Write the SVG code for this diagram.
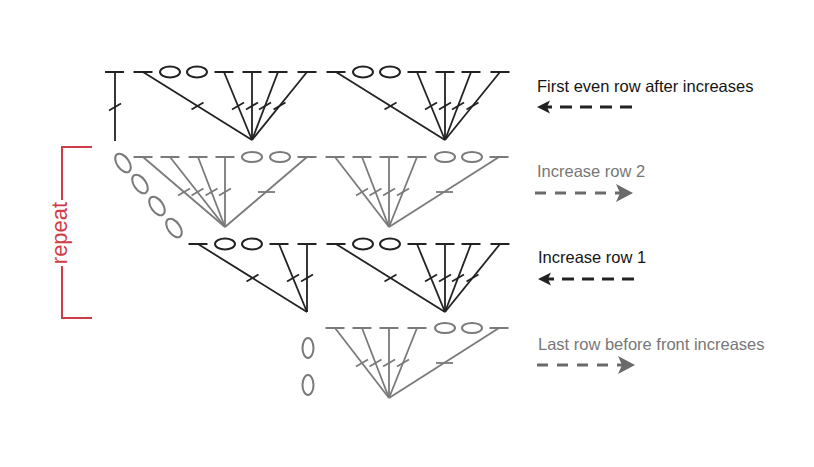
<svg xmlns="http://www.w3.org/2000/svg" width="814" height="467" viewBox="0 0 814 467">
<style>
  line { stroke-width: 1.8; stroke-linecap: butt; }
  .bar { stroke-width: 2; }
  ellipse { fill: none; stroke-width: 2; }
  .blk { stroke: #222222; }
  .gry { stroke: #7a7a7a; }
  .red { stroke: #cf3b47; stroke-width: 2; fill: none; }
  .lbl { font-family: "Liberation Sans", Arial, sans-serif; font-size: 16.5px; }
  .dashk { stroke: #222222; stroke-width: 3; stroke-dasharray: 12 8; }
  .dashg { stroke: #6a6a6a; stroke-width: 3; stroke-dasharray: 11 9; }
</style>
<defs>
  <!-- black fan: origin at convergence point, bars at y=-68 -->
  <g id="fanA-core">
    <line class="bar" x1="-118.5" y1="-68" x2="-99.5" y2="-68"/>
    <line x1="-109" y1="-68" x2="0" y2="0"/>
    <line x1="-60.5" y1="-30.5" x2="-48.5" y2="-37.5"/>
    <ellipse cx="-82" cy="-68" rx="10" ry="5.5"/>
    <ellipse cx="-55" cy="-68" rx="10" ry="5.5"/>
    <line class="bar" x1="-37.5" y1="-68" x2="-18.5" y2="-68"/>
    <line x1="-28" y1="-68" x2="0" y2="0"/>
    <line x1="-20" y1="-30.5" x2="-8" y2="-37.5"/>
    <line class="bar" x1="-9.5" y1="-68" x2="9.5" y2="-68"/>
    <line x1="0" y1="-68" x2="0" y2="0"/>
    <line x1="-6" y1="-30.5" x2="6" y2="-37.5"/>
  </g>
  <g id="fanA-ext">
    <line class="bar" x1="16.5" y1="-68" x2="35.5" y2="-68"/>
    <line x1="26" y1="-68" x2="0" y2="0"/>
    <line x1="7" y1="-30.5" x2="19" y2="-37.5"/>
    <line class="bar" x1="45.5" y1="-68" x2="64.5" y2="-68"/>
    <line x1="55" y1="-68" x2="0" y2="0"/>
    <line x1="21.5" y1="-30.5" x2="33.5" y2="-37.5"/>
  </g>
  <!-- gray fan: origin at convergence point, bars at y=-70 -->
  <g id="fanB">
    <line class="bar" x1="-63.5" y1="-70" x2="-44.5" y2="-70"/>
    <line x1="-54" y1="-70" x2="0" y2="0"/>
    <line x1="-33" y1="-31.5" x2="-21" y2="-38.5"/>
    <line class="bar" x1="-36.5" y1="-70" x2="-17.5" y2="-70"/>
    <line x1="-27" y1="-70" x2="0" y2="0"/>
    <line x1="-19.5" y1="-31.5" x2="-7.5" y2="-38.5"/>
    <line class="bar" x1="-9.5" y1="-70" x2="9.5" y2="-70"/>
    <line x1="0" y1="-70" x2="0" y2="0"/>
    <line x1="-6" y1="-31.5" x2="6" y2="-38.5"/>
    <line class="bar" x1="18.5" y1="-70" x2="37.5" y2="-70"/>
    <line x1="28" y1="-70" x2="0" y2="0"/>
    <line x1="8" y1="-31.5" x2="20" y2="-38.5"/>
    <ellipse cx="56" cy="-70" rx="10" ry="5"/>
    <ellipse cx="83" cy="-70" rx="10" ry="5"/>
    <line class="bar" x1="100.5" y1="-70" x2="119.5" y2="-70"/>
    <line x1="110" y1="-70" x2="0" y2="0"/>
    <line x1="47" y1="-35" x2="64" y2="-35"/>
  </g>
</defs>

<g id="row-first-even">
  <g id="start-stitch" class="blk">
    <line class="bar" x1="105" y1="72" x2="124" y2="72"/>
    <line x1="115" y1="72" x2="115" y2="141"/>
    <line x1="109" y1="110.5" x2="121" y2="103.5"/>
  </g>
  <g id="fan1-left" class="blk" transform="translate(252,140)">
    <use href="#fanA-core"/>
    <use href="#fanA-ext"/>
  </g>
  <g id="fan1-right" class="blk" transform="translate(445,140)">
    <use href="#fanA-core"/>
    <use href="#fanA-ext"/>
  </g>
</g>

<g id="row-increase-2">
  <g id="chain-diagonal" class="gry">
    <ellipse cx="123" cy="163" rx="10.5" ry="6" transform="rotate(55 123 163)"/>
    <ellipse cx="140" cy="184" rx="10.5" ry="6" transform="rotate(55 140 184)"/>
    <ellipse cx="157" cy="206" rx="10.5" ry="6" transform="rotate(55 157 206)"/>
    <ellipse cx="174" cy="228" rx="10.5" ry="6" transform="rotate(55 174 228)"/>
  </g>
  <g id="fan2-left" class="gry">
    <line class="bar" x1="133.5" y1="157" x2="152.5" y2="157"/>
    <line x1="143" y1="157" x2="225" y2="227"/>
    <line x1="178" y1="195.5" x2="190" y2="188.5"/>
    <line class="bar" x1="160.5" y1="157" x2="179.5" y2="157"/>
    <line x1="170" y1="157" x2="225" y2="227"/>
    <line x1="191.5" y1="195.5" x2="203.5" y2="188.5"/>
    <line class="bar" x1="188.5" y1="157" x2="207.5" y2="157"/>
    <line x1="198" y1="157" x2="225" y2="227"/>
    <line x1="205.5" y1="195.5" x2="217.5" y2="188.5"/>
    <line class="bar" x1="215.5" y1="157" x2="234.5" y2="157"/>
    <line x1="225" y1="157" x2="225" y2="227"/>
    <line x1="219" y1="195.5" x2="231" y2="188.5"/>
    <ellipse cx="252" cy="157" rx="10" ry="5"/>
    <ellipse cx="280" cy="157" rx="10" ry="5"/>
    <line class="bar" x1="297.5" y1="157" x2="316.5" y2="157"/>
    <line x1="307" y1="157" x2="225" y2="227"/>
    <line x1="258" y1="192" x2="275" y2="192"/>
  </g>
  <g id="fan2-right" class="gry" transform="translate(389,227)">
    <use href="#fanB"/>
  </g>
</g>

<g id="row-increase-1">
  <g id="fan3-left" class="blk" transform="translate(307,312)">
    <use href="#fanA-core"/>
  </g>
  <g id="fan3-right" class="blk" transform="translate(445,312)">
    <use href="#fanA-core"/>
    <use href="#fanA-ext"/>
  </g>
</g>

<g id="row-last">
  <g id="chain-vertical" class="gry">
    <ellipse cx="308" cy="348" rx="5.5" ry="10"/>
    <ellipse cx="308" cy="385" rx="5.5" ry="10"/>
  </g>
  <g id="fan4" class="gry" transform="translate(389,398)">
    <use href="#fanB"/>
  </g>
</g>

<g id="repeat-bracket">
  <path class="red" d="M92,147 H62 V200 M62,266 V318 H92"/>
  <text transform="translate(67,233) rotate(-90)" text-anchor="middle" font-family="Liberation Sans, Arial, sans-serif" font-size="22" fill="#cf3b47">repeat</text>
</g>

<g id="connectors">
  <line class="dashk" x1="632" y1="107" x2="543" y2="107"/>
  <path d="M537,107 L550,100.5 L547,107 L550,113.5 Z" fill="#222222"/>
  <line class="dashg" x1="535" y1="193" x2="622" y2="193"/>
  <path d="M633,193 L616,184 L620,193 L616,202 Z" fill="#6a6a6a"/>
  <line class="dashk" x1="634" y1="279" x2="544" y2="279"/>
  <path d="M538,279 L551,272.5 L548,279 L551,285.5 Z" fill="#222222"/>
  <line class="dashg" x1="537" y1="365" x2="624" y2="365"/>
  <path d="M635,365 L618,356 L622,365 L618,374 Z" fill="#6a6a6a"/>
</g>

<g id="labels">
  <text class="lbl" x="537" y="92" fill="#151515">First even row after increases</text>
  <text class="lbl" x="537" y="177" fill="#777777">Increase row 2</text>
  <text class="lbl" x="538" y="263" fill="#151515">Increase row 1</text>
  <text class="lbl" x="538" y="350" fill="#777777">Last row before front increases</text>
</g>
</svg>
